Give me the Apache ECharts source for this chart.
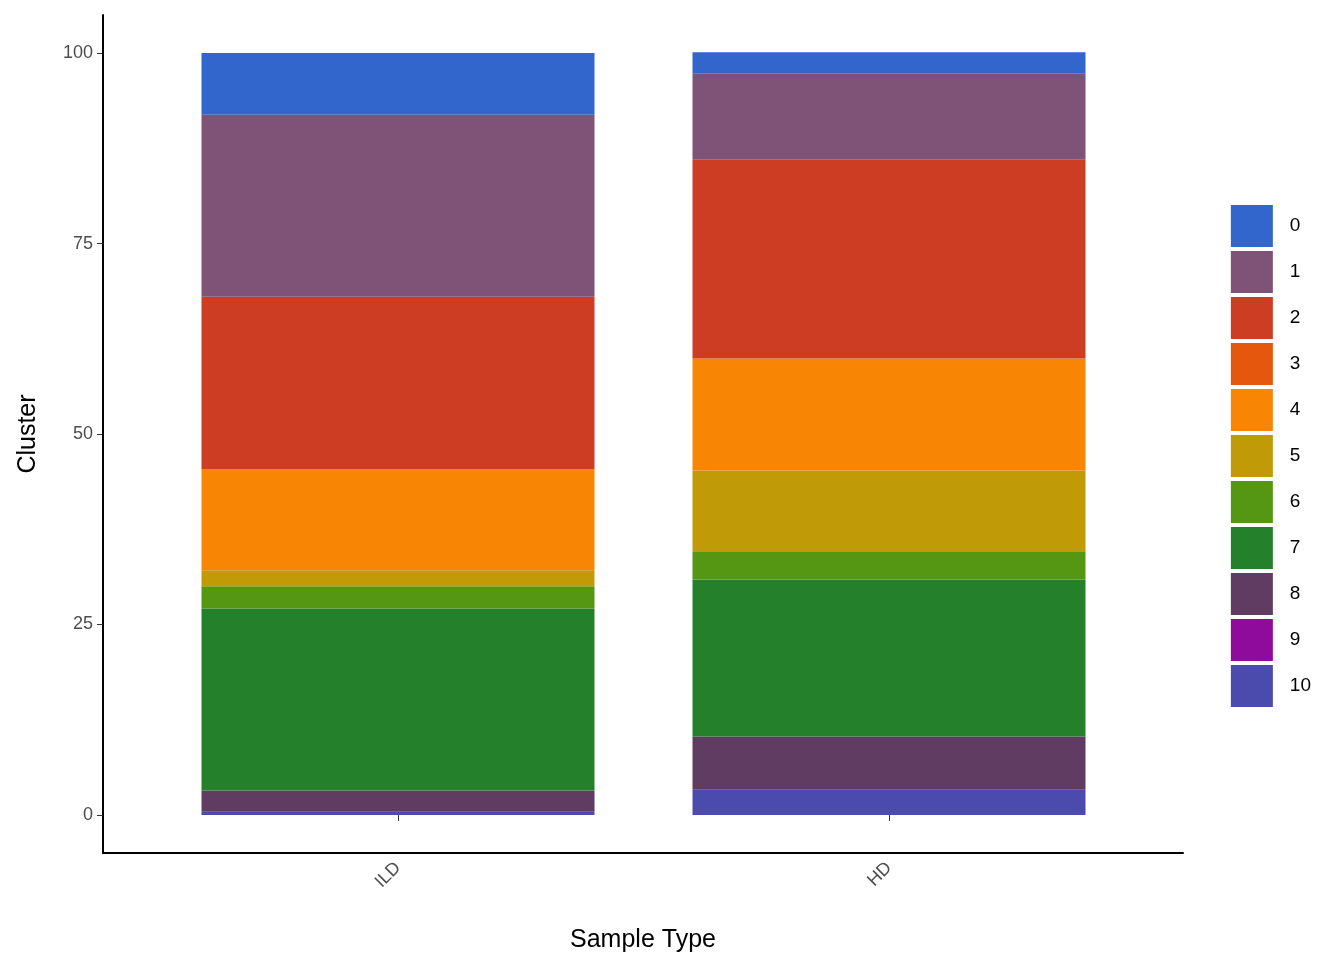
<!DOCTYPE html>
<html><head><meta charset="utf-8">
<script src="https://cdn.jsdelivr.net/npm/echarts@6/dist/echarts.min.js"></script>
<style>html,body{margin:0;background:#fff}#divChart{width:1344px;height:960px}</style>
</head><body><div id="divChart"></div>
<script>
var sampleTypes = ['ILD', 'HD'];
var clusters = ['0', '1', '2', '3', '4', '5', '6', '7', '8', '9', '10'];
var colors = ['#3366CC', '#7F5378', '#CC3D24', '#E4570D', '#F88504', '#C19A07', '#559612', '#24802A', '#603B62', '#8E0B9B', '#4A4BAD'];
// percent per cluster, [ILD, HD]
var pct = {
  '0': [8.1, 2.8], '1': [23.9, 11.3], '2': [22.6, 26.1], '3': [0, 0], '4': [13.3, 14.7],
  '5': [2.1, 10.6], '6': [2.9, 3.7], '7': [23.9, 20.6], '8': [2.8, 7.0], '9': [0, 0], '10': [0.4, 3.3]
};

var divChart = echarts.init(document.getElementById('divChart'));
var series = [];
// bottom of the stack is cluster 10
for (var i = clusters.length - 1; i >= 0; i--) {
  var c = clusters[i];
  series.push({
    name: c, type: 'bar', stack: 'all', barWidth: 393,
    xAxisIndex: 1, yAxisIndex: 1,
    itemStyle: { color: colors[i] },
    data: pct[c]
  });
}
var txt = { fontFamily: 'Liberation Sans, Arial', color: '#4d4d4d', fontSize: 18 };
var ttl = { fontFamily: 'Liberation Sans, Arial', fontSize: 25, color: '#000' };
var option = {
  animation: false,
  color: colors,
  grid: [
    { left: 103, right: 161, top: 15, bottom: 107 },
    { left: 152.5, right: 209.5, top: 15, bottom: 107 }
  ],
  legend: {
    data: clusters, orient: 'vertical', right: 28, top: 200,
    itemWidth: 42, itemHeight: 42, itemGap: 4, icon: 'rect',
    textStyle: { fontFamily: 'Liberation Sans, Arial', fontSize: 19, color: '#000', padding: [0, 0, 0, 12] }
  },
  xAxis: [{
    gridIndex: 0, type: 'value', min: 0, max: 1, splitLine: { show: false },
    name: 'Sample Type', nameLocation: 'middle', nameGap: 75, nameTextStyle: ttl,
    axisLine: { show: true, onZero: false, lineStyle: { color: '#000', width: 2 } },
    axisTick: { show: false }, axisLabel: { show: false }
  }, {
    gridIndex: 1, type: 'category', data: sampleTypes, position: 'bottom',
    axisLine: { show: false },
    axisTick: { show: true, alignWithLabel: true, length: 6, lineStyle: { color: '#333' } },
    axisLabel: Object.assign({ rotate: 45, margin: 12 }, txt)
  }],
  yAxis: [{
    gridIndex: 0, type: 'value', min: -5, max: 105, splitLine: { show: false },
    name: 'Cluster', nameLocation: 'middle', nameGap: 62, nameTextStyle: ttl,
    axisLine: { show: true, lineStyle: { color: '#000', width: 2 } },
    axisTick: { show: true, customValues: [0, 25, 50, 75, 100], length: 6, lineStyle: { color: '#333' } },
    axisLabel: Object.assign({ customValues: [0, 25, 50, 75, 100], margin: 10 }, txt)
  }, {
    gridIndex: 1, type: 'value', min: -5, max: 105, show: false, splitLine: { show: false }
  }],
  series: series
};
divChart.setOption(option);
</script></body></html>
